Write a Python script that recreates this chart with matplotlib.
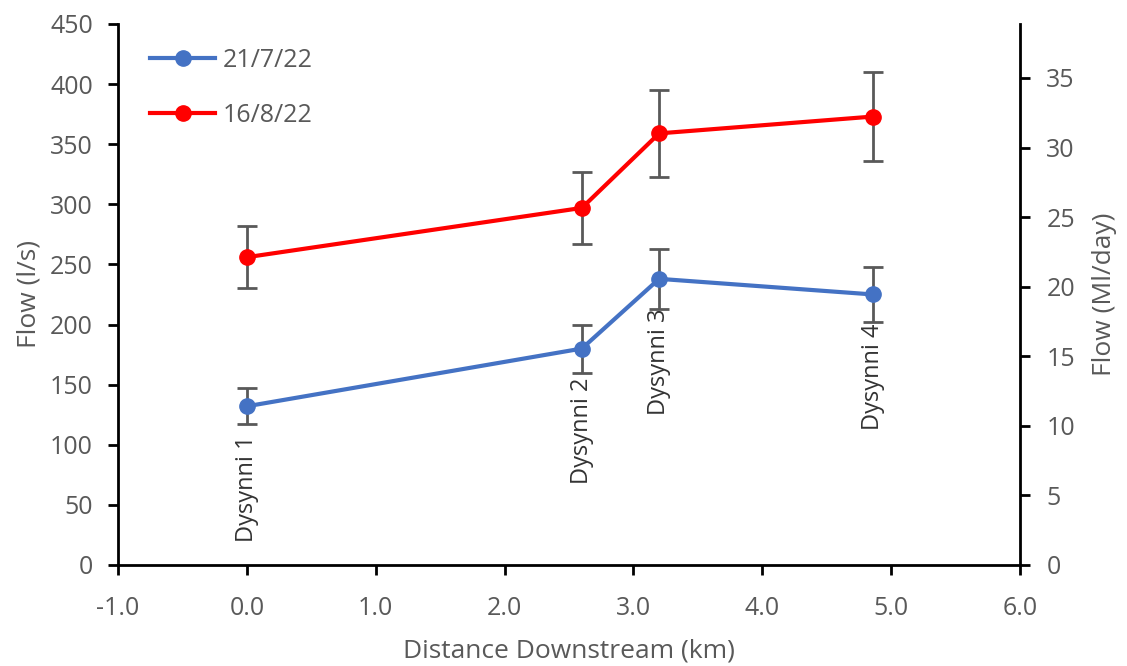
import numpy as np
import matplotlib.pyplot as plt
from matplotlib.lines import Line2D

plt.rcParams['font.family'] = ['Open Sans', 'DejaVu Sans']

# 数据
distance = [0.0, 2.6, 3.2, 4.86]
sites = ['Dysynni 1', 'Dysynni 2', 'Dysynni 3', 'Dysynni 4']
flow_jul = [132, 180, 238, 225]
err_jul = [15, 20, 25, 23]
flow_aug = [256, 297, 359, 373]
err_aug = [26, 30, 36, 37]
LS_TO_MLD = 0.0864  # l/s -> Ml/day

GREY = '#595959'
BLUE = '#4472C4'
RED = '#FF0000'

fig = plt.figure(figsize=(11.27, 6.66), dpi=100)
ax = fig.add_axes([0.1047, 0.1517, 0.8003, 0.8123])

ax.errorbar(distance, flow_jul, yerr=err_jul, color=BLUE, lw=3, marker='o', ms=11,
            ecolor=GREY, elinewidth=2, capsize=7, capthick=2, zorder=3)
ax.errorbar(distance, flow_aug, yerr=err_aug, color=RED, lw=3, marker='o', ms=11,
            ecolor=GREY, elinewidth=2, capsize=7, capthick=2, zorder=3)

for x, y, s in zip(distance, flow_jul, sites):
    ax.annotate(s, (x, y), xytext=(0, -21), textcoords='offset points',
                rotation=90, ha='center', va='top', fontsize=17, color='#333333')

ax.set_xlim(-1, 6)
ax.set_ylim(0, 450)
ax.set_xticks(np.arange(-1, 6.1, 1))
ax.set_xticklabels([f'{v:.1f}' for v in np.arange(-1, 6.1, 1)])
ax.set_yticks(np.arange(0, 451, 50))
ax.set_xlabel('Distance Downstream (km)', fontsize=19, color=GREY, labelpad=13)
ax.set_ylabel('Flow (l/s)', fontsize=19, color=GREY, labelpad=6)

ax2 = ax.twinx()
ax2.set_ylim(0, 450 * LS_TO_MLD)
ax2.set_yticks(np.arange(0, 36, 5))
ax2.set_ylabel('Flow (Ml/day)', fontsize=19, color=GREY, labelpad=12)

for a in (ax, ax2):
    a.spines['top'].set_visible(False)
    for sp in ('left', 'right', 'bottom'):
        a.spines[sp].set_linewidth(2)
        a.spines[sp].set_color('black')
    a.tick_params(axis='both', width=2, length=7, color='black', labelcolor=GREY,
                  labelsize=18, direction='out')
ax.tick_params(axis='x', pad=15)
ax.tick_params(axis='y', pad=11)
ax2.tick_params(axis='y', pad=12)
ax.spines['right'].set_visible(False)
ax2.spines['left'].set_visible(False)
ax2.spines['bottom'].set_visible(False)

handles = [Line2D([], [], color=BLUE, lw=3, marker='o', ms=11),
           Line2D([], [], color=RED, lw=3, marker='o', ms=11)]
leg = ax.legend(handles, ['21/7/22', '16/8/22'], loc='upper left',
                bbox_to_anchor=(0.011, 0.997), frameon=False, fontsize=18,
                handlelength=2.6, handletextpad=0.3, labelspacing=1.2)
for t in leg.get_texts():
    t.set_color(GREY)

fig.savefig('out.png', dpi=100)
